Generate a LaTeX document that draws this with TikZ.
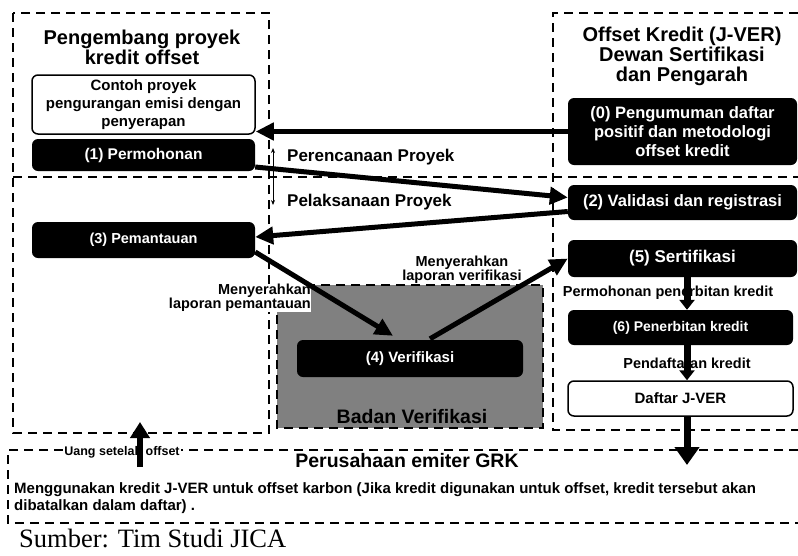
\documentclass[tikz,border=0pt]{standalone}
\usepackage{fontspec}
\setmainfont{Liberation Sans}
\newfontfamily\srcfont{Liberation Serif}
\usetikzlibrary{arrows.meta}
\newcommand\fsz[2]{\fontsize{#1}{#2}\selectfont}

\begin{document}
\begin{tikzpicture}[x=1pt,y=-1pt,
  zone/.style={line width=1.8pt, dash pattern=on 9pt off 6pt},
  blk/.style={fill=black, text=white, rounded corners=6pt, align=center, inner sep=0pt},
  wht/.style={draw=black, line width=1.5pt, fill=white, rounded corners=6pt, align=center, inner sep=0pt},
  ttl/.style={font=\bfseries\fsz{20}{20}, align=center, inner sep=0pt},
  lbl/.style={font=\bfseries\fsz{14.5}{14}, align=center, inner sep=1pt},
  flow/.style={line width=5pt, -{Triangle[length=18pt,width=17pt]}},
  stub/.style={line width=7pt, -{Triangle[length=10pt,width=15pt]}},
]
\useasboundingbox (0,0) rectangle (798,555);

% dashed zones
\draw[zone] (13,13) rectangle (269,433);
\draw[zone] (13,177) -- (798,177);
\draw[zone] (798,13) -- (553,13) -- (553,430) -- (798,430);
\draw[zone] (798,450) -- (8,450) -- (8,523) -- (798,523);
\draw[zone, fill=black!50] (277,285) rectangle (543,428);

% zone titles
\node[ttl] (devt) at (142,47) {Pengembang proyek\\kredit offset};
\node[ttl] (boardt) at (682,56) {Offset Kredit (J-VER)\\Dewan Sertifikasi\\dan Pengarah};
\node[font=\bfseries\fsz{19.5}{20}, inner sep=0pt] (vert) at (412,417) {Badan Verifikasi};
\node[font=\bfseries\fsz{19.5}{20}, inner sep=0pt] (emit) at (407,461) {Perusahaan emiter GRK};

% process boxes
\node[wht, minimum width=223pt, minimum height=59pt, font=\bfseries\fsz{15}{18}] (contoh) at (143.5,104.5)
  {Contoh proyek\\pengurangan emisi dengan\\penyerapan};
\node[blk, minimum width=223pt, minimum height=32pt, font=\bfseries\fsz{15.5}{18}] (p1) at (143.5,155) {(1) Permohonan};
\node[blk, minimum width=223pt, minimum height=36pt, font=\bfseries\fsz{14.5}{18}] (p3) at (143.5,240) {(3) Pemantauan};
\node[blk, minimum width=229pt, minimum height=67pt, font=\bfseries\fsz{16.5}{19}] (p0) at (682.5,131.5)
  {(0) Pengumuman daftar\\positif dan metodologi\\offset kredit};
\node[blk, minimum width=229pt, minimum height=35pt, font=\bfseries\fsz{16.5}{18}] (p2) at (682.5,202.5) {(2) Validasi dan registrasi};
\node[blk, minimum width=229pt, minimum height=37pt, font=\bfseries\fsz{17}{18}] (p5) at (682.5,258.5) {(5) Sertifikasi};
\node[blk, minimum width=225pt, minimum height=35pt, font=\bfseries\fsz{14}{18}] (p6) at (680.5,327.5) {(6) Penerbitan kredit};
\node[wht, minimum width=225pt, minimum height=35pt, font=\bfseries\fsz{15}{18}] (daftar) at (680.5,398.5) {Daftar J-VER};
\node[blk, minimum width=226pt, minimum height=37pt, font=\bfseries\fsz{15}{18}] (p4) at (410,358.5) {(4) Verifikasi};

% connector labels
\node[lbl, font=\bfseries\fsz{17}{17}, anchor=west] (plan) at (286,157) {Perencanaan Proyek};
\node[lbl, font=\bfseries\fsz{17}{17}, anchor=west] (exec) at (286,202) {Pelaksanaan Proyek};
\node[lbl, fill=white, align=right, anchor=east, inner sep=0pt] (lapmon) at (311,298) {Menyerahkan\\laporan pemantauan};
\node[lbl] (lapver) at (462,269.5) {Menyerahkan\\laporan verifikasi};
\node[lbl] (mohon) at (668,293) {Permohonan penerbitan kredit};
\node[lbl] (daft) at (687,363) {Pendaftaran kredit};
\node[lbl, font=\bfseries\fsz{12.5}{12}, fill=white, inner sep=1pt] (uang) at (122,452) {Uang setelah offset};
\node[lbl, align=left, anchor=north west, inner sep=0pt, font=\bfseries\fsz{15}{17}] (use) at (14,482)
  {Menggunakan kredit J-VER untuk offset karbon (Jika kredit digunakan untuk offset, kredit tersebut akan\\dibatalkan dalam daftar) .};
\node[font=\srcfont\fsz{26.5}{26}, anchor=west, inner sep=0pt] (src) at (19,538) {Sumber: Tim Studi JICA};

% helper points
\coordinate (da1) at (273,148);
\coordinate (da2) at (273,205);
\coordinate (gout) at (687,465);
\coordinate (ubase) at (140,467);
\coordinate (utip) at (140,422);

% connectors
\draw[line width=1pt, {Stealth[length=5pt,width=4pt]}-{Stealth[length=5pt,width=4pt]}] (da1) -- (da2);
\draw[flow] (p0.west) -- (contoh.east |- p0.west);
\draw[flow] ([yshift=-12pt]p1.east) -- ([yshift=5pt]p2.west);
\draw[flow] ([yshift=-9pt]p2.west) -- ([yshift=3pt]p3.east);
\draw[flow] ([yshift=-12pt]p3.east) -- ([xshift=-17pt,yshift=4pt]p4.north);
\draw[flow] ([xshift=20pt,yshift=1pt]p4.north) -- (p5.west);
\draw[stub] (p5.south -| gout) -- (p6.north -| gout);
\draw[stub] (p6.south -| gout) -- (daftar.north -| gout);
\draw[line width=7pt, -{Triangle[length=18pt,width=24pt]}] (daftar.south -| gout) -- (gout);
\draw[line width=6pt, -{Triangle[length=16pt,width=19pt]}] (ubase) -- (utip);
\end{tikzpicture}
\end{document}
